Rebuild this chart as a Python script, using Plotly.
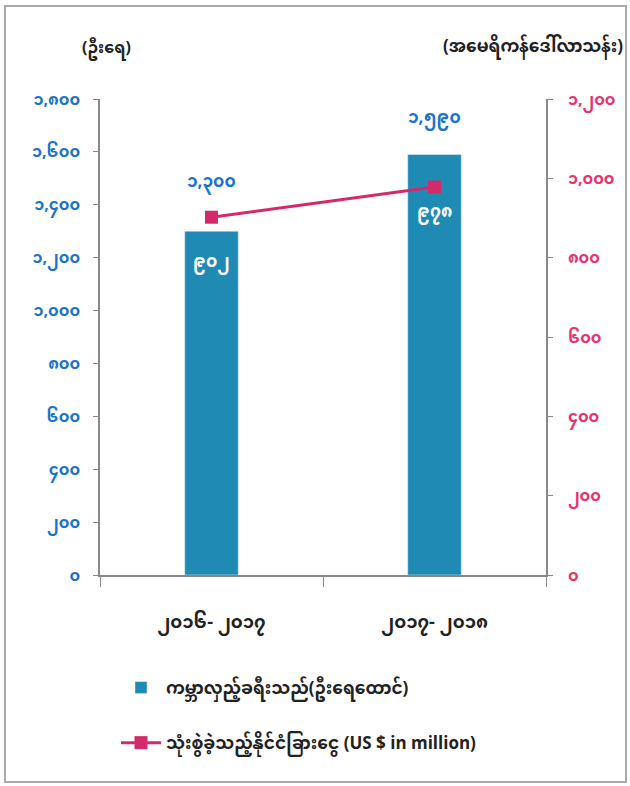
import plotly.graph_objects as go

categories = ["၂၀၁၆- ၂၀၁၇", "၂၀၁၇- ၂၀၁၈"]
tourists = [1300, 1590]
tourist_labels = ["၁,၃၀၀", "၁,၅၉၀"]
spending = [902, 978]
spending_labels = ["၉၀၂", "၉၇၈"]

left_tickvals = [0, 200, 400, 600, 800, 1000, 1200, 1400, 1600, 1800]
left_ticktext = ["၀", "၂၀၀", "၄၀၀", "၆၀၀", "၈၀၀", "၁,၀၀၀", "၁,၂၀၀", "၁,၄၀၀", "၁,၆၀၀", "၁,၈၀၀"]
right_tickvals = [0, 200, 400, 600, 800, 1000, 1200]
right_ticktext = ["၀", "၂၀၀", "၄၀၀", "၆၀၀", "၈၀၀", "၁,၀၀၀", "၁,၂၀၀"]

bar_name = "ကမ္ဘာလှည့်ခရီးသည်(ဦးရေထောင်)"
line_name = "သုံးစွဲခဲ့သည့်နိုင်ငံခြားငွေ (US $ in million)"
left_title = "(ဦးရေ)"
right_title = "(အမေရိကန်ဒေါ်လာသန်း)"

FONT = "Noto Sans Myanmar, Padauk, Myanmar Text, Noto Sans, DejaVu Sans"
BAR_C = "#1f8ab3"
LINE_C = "#d42a6b"
BLUE = "#1c74c9"
PINK = "#e8336e"

W, H = 630, 786
L, R, T, B = 100, 84, 99, 211
pw, ph = W - L - R, H - T - B

fig = go.Figure()
fig.add_trace(go.Bar(
    x=categories, y=tourists, name=bar_name, marker_color=BAR_C,
    width=0.24, yaxis="y", legendgroup="a",
))
fig.add_trace(go.Scatter(
    x=categories, y=spending, name=line_name, mode="lines+markers",
    line=dict(color=LINE_C, width=3), marker=dict(symbol="square", size=13, color=LINE_C),
    yaxis="y2", legendgroup="b",
))

annotations = []
shifts_top = [48, 36]
for c, v, t, s in zip(categories, tourists, tourist_labels, shifts_top):
    annotations.append(dict(x=c, y=v, yref="y", text=t, showarrow=False, yshift=s,
                            font=dict(color=BLUE, size=17, family=FONT, weight="bold")))
shifts_in = [-46, -26]
for c, v, t, s in zip(categories, spending, spending_labels, shifts_in):
    annotations.append(dict(x=c, y=v, yref="y2", text=t, showarrow=False, yshift=s,
                            font=dict(color="white", size=17, family=FONT, weight="bold")))
annotations.append(dict(xref="paper", yref="paper", x=(106 - L) / pw, y=(H - B - 50) / ph,
                        text=left_title, showarrow=False, xanchor="center", yanchor="middle",
                        font=dict(color="#222", size=16, family=FONT, weight="bold")))
annotations.append(dict(xref="paper", yref="paper", x=(625 - L) / pw, y=(H - B - 48) / ph,
                        text=right_title, showarrow=False, xanchor="right", yanchor="middle",
                        font=dict(color="#222", size=17, family=FONT, weight="bold")))

fig.update_layout(
    width=W, height=H,
    margin=dict(l=L, r=R, t=T, b=B),
    paper_bgcolor="white", plot_bgcolor="white",
    font=dict(family=FONT, color="#222"),
    showlegend=True,
    legend=dict(orientation="v", x=(116 - L) / pw, y=(H - B - 670) / ph, xanchor="left", yanchor="top",
                font=dict(size=17, family=FONT, color="#222", weight="bold"), tracegroupgap=30,
                itemwidth=40, bgcolor="rgba(0,0,0,0)"),
    xaxis=dict(showline=True, linecolor="#888", linewidth=1.5, ticks="outside", tickson="boundaries",
               ticklen=10, tickcolor="#888", tickfont=dict(size=18, color="#222", family=FONT, weight="bold"),
               showgrid=False, zeroline=False, ticklabelstandoff=30),
    yaxis=dict(range=[0, 1800], tickvals=left_tickvals, ticktext=left_ticktext,
               showline=True, linecolor="#888", linewidth=1.5, ticks="outside", ticklen=5,
               tickcolor="#888", tickfont=dict(size=16, color=BLUE, family=FONT, weight="bold"),
               showgrid=False, zeroline=False, ticklabelstandoff=10),
    yaxis2=dict(range=[0, 1200], tickvals=right_tickvals, ticktext=right_ticktext, overlaying="y",
                side="right", showline=True, linecolor="#888", linewidth=1.5, ticks="outside",
                ticklen=5, tickcolor="#888", tickfont=dict(size=16, color=PINK, family=FONT, weight="bold"),
                showgrid=False, zeroline=False, ticklabelstandoff=12),
    annotations=annotations,
    shapes=[dict(type="rect", xref="paper", yref="paper",
                 x0=(5 - L) / pw, x1=(626 - L) / pw, y0=(H - B - 782) / ph, y1=(H - B - 6) / ph,
                 line=dict(color="#aaa", width=2), fillcolor="rgba(0,0,0,0)", layer="below")],
)

fig.write_html("out.html", config={"displayModeBar": False},
               post_script="document.body.style.margin='0';")
